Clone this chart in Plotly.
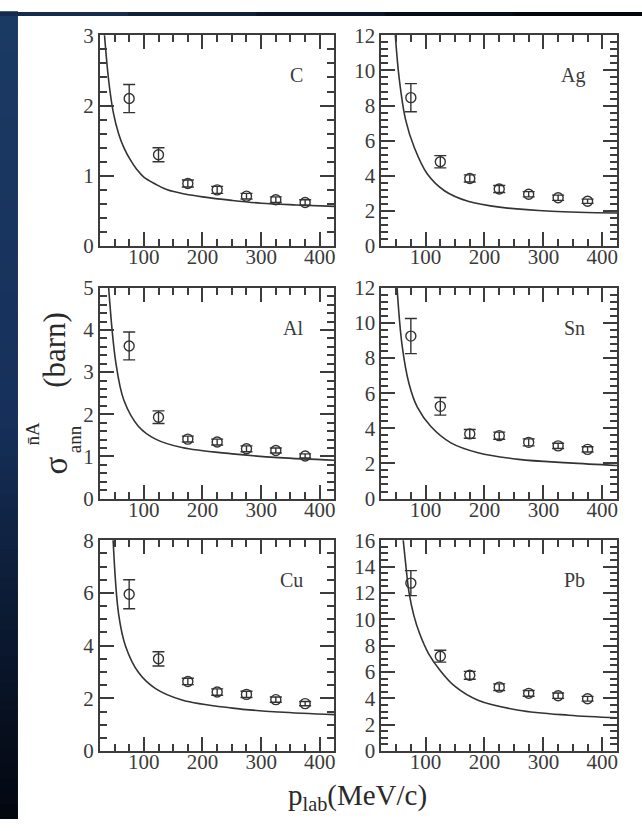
import plotly.graph_objects as go

W, H = 642, 831

# Beam momenta of the measured points (MeV/c)
p_lab = [75, 125, 175, 225, 275, 325, 375]

# Measured annihilation cross sections (barn) and their errors
sigma_C = [2.10, 1.30, 0.89, 0.80, 0.71, 0.66, 0.62]
err_C = [0.20, 0.10, 0.05, 0.05, 0.04, 0.04, 0.04]
sigma_Ag = [8.45, 4.80, 3.85, 3.25, 2.95, 2.75, 2.55]
err_Ag = [0.80, 0.35, 0.20, 0.20, 0.15, 0.15, 0.12]
sigma_Al = [3.62, 1.93, 1.41, 1.34, 1.18, 1.14, 1.01]
err_Al = [0.33, 0.15, 0.07, 0.07, 0.07, 0.06, 0.05]
sigma_Sn = [9.25, 5.25, 3.68, 3.58, 3.20, 3.00, 2.80]
err_Sn = [1.00, 0.50, 0.25, 0.20, 0.20, 0.15, 0.15]
sigma_Cu = [5.95, 3.50, 2.64, 2.24, 2.15, 1.95, 1.80]
err_Cu = [0.55, 0.27, 0.12, 0.12, 0.12, 0.10, 0.08]
sigma_Pb = [12.75, 7.20, 5.75, 4.85, 4.38, 4.20, 3.97]
err_Pb = [0.95, 0.45, 0.30, 0.25, 0.22, 0.20, 0.18]

# Calculated curves (momentum, cross section)
curve_p_C = [32, 40, 48, 57, 66, 76, 88, 100, 120, 140, 170, 200, 250, 300, 360, 425]
curve_s_C = [3.10, 2.36, 1.90, 1.60, 1.40, 1.24, 1.09, 0.98, 0.88, 0.80, 0.74, 0.70, 0.65, 0.61, 0.585, 0.565]
curve_p_Ag = [48, 55, 66, 81, 103, 132, 172, 229, 314, 425]
curve_s_Ag = [12.3, 9.6, 7.2, 5.6, 4.1, 3.15, 2.55, 2.2, 1.98, 1.88]
curve_p_Al = [39, 52, 66, 91, 120, 165, 251, 330, 425]
curve_s_Al = [5.2, 3.25, 2.33, 1.71, 1.41, 1.21, 1.06, 0.97, 0.91]
curve_p_Sn = [51, 60, 72, 86, 109, 143, 189, 258, 343, 425]
curve_s_Sn = [12.3, 8.75, 6.52, 5.2, 4.1, 3.17, 2.61, 2.23, 2.03, 1.88]
curve_p_Cu = [47, 57, 69, 91, 120, 165, 251, 330, 425]
curve_s_Cu = [8.3, 5.2, 3.97, 2.98, 2.37, 1.94, 1.63, 1.48, 1.38]
curve_p_Pb = [61, 66, 72, 80, 90, 105, 125, 150, 189, 258, 343, 425]
curve_s_Pb = [16.5, 14.3, 12.0, 10.3, 8.9, 7.4, 6.1, 4.9, 3.85, 3.1, 2.72, 2.52]

# Axis settings per target: (y max, major step, minor step)
targets = ["C", "Ag", "Al", "Sn", "Cu", "Pb"]
y_max = [3, 12, 5, 12, 8, 16]
y_major = [1, 2, 1, 2, 2, 2]
y_minor = [0.2, 0.4, 0.2, 0.4, 0.5, 0.5]
x_ticks = [100, 200, 300, 400]

data_sets = {
    "C": (sigma_C, err_C, curve_p_C, curve_s_C),
    "Ag": (sigma_Ag, err_Ag, curve_p_Ag, curve_s_Ag),
    "Al": (sigma_Al, err_Al, curve_p_Al, curve_s_Al),
    "Sn": (sigma_Sn, err_Sn, curve_p_Sn, curve_s_Sn),
    "Cu": (sigma_Cu, err_Cu, curve_p_Cu, curve_s_Cu),
    "Pb": (sigma_Pb, err_Pb, curve_p_Pb, curve_s_Pb),
}


def px(x):
    return x / W


def py(y):
    return 1 - y / H


# Panel frames in pixels
col_x = [(100, 335), (382, 618)]
row_y = [(24, 241), (284, 501), (544, 761)]

INK = "#333333"
SERIF = "Liberation Serif"

fig = go.Figure()
layout_axes = {}
annotations = []

for i, name in enumerate(targets):
    r, c = divmod(i, 2)
    x0, x1 = col_x[c]
    y0, y1 = row_y[r]
    n = "" if i == 0 else str(i + 1)
    sig, err, cp, cs = data_sets[name]

    fig.add_trace(go.Scatter(
        x=cp, y=cs, mode="lines", line=dict(color=INK, width=1.6, shape="spline"),
        xaxis="x" + n, yaxis="y" + n, showlegend=False, hoverinfo="skip"))
    fig.add_trace(go.Scatter(
        x=p_lab, y=sig, mode="markers",
        marker=dict(symbol="circle-open", size=10, color=INK, line=dict(width=1.4, color=INK)),
        error_y=dict(type="data", array=err, visible=True, color=INK, thickness=1.4, width=6),
        xaxis="x" + n, yaxis="y" + n, showlegend=False))

    common = dict(
        showline=True, linecolor="#3c3c3c", linewidth=2, mirror="allticks",
        ticks="inside", tickcolor="#3c3c3c", tickwidth=1.5, ticklen=14,
        showgrid=False, zeroline=False,
        tickfont=dict(family=SERIF, size=21, color="#3a3a3a"),
    )
    layout_axes["xaxis" + n] = dict(
        common, domain=[px(x0), px(x1)], range=[25, 425], anchor="y" + n,
        tickvals=x_ticks, ticklabelstandoff=-9,
        minor=dict(dtick=25, tick0=0, ticks="inside", ticklen=7, tickcolor="#3c3c3c", tickwidth=1.5),
    )
    layout_axes["yaxis" + n] = dict(
        common, domain=[py(y1), py(y0)], range=[0, y_max[i]], anchor="x" + n,
        dtick=y_major[i], tick0=0,
        minor=dict(dtick=y_minor[i], tick0=0, ticks="inside", ticklen=7, tickcolor="#3c3c3c", tickwidth=1.5),
    )
    annotations.append(dict(
        text=name, x=px(x1 - 30), y=py(y0 + 41), xref="paper", yref="paper",
        xanchor="right", yanchor="middle", showarrow=False,
        font=dict(family=SERIF, size=20, color="#3a3a3a")))

# Axis titles
annotations.append(dict(
    text="p<sub>lab</sub>(MeV/c)", x=px(358), y=py(808), xref="paper", yref="paper",
    xanchor="center", yanchor="middle", showarrow=False,
    font=dict(family=SERIF, size=29, color="#2a2a2a")))
annotations.append(dict(
    text="(barn)", x=px(55), y=py(348), xref="paper", yref="paper", textangle=-90,
    xanchor="center", yanchor="middle", showarrow=False,
    font=dict(family=SERIF, size=31, color="#2a2a2a")))
annotations.append(dict(
    text="σ", x=px(56), y=py(467), xref="paper", yref="paper", textangle=-90,
    xanchor="center", yanchor="middle", showarrow=False,
    font=dict(family=SERIF, size=33, color="#2a2a2a")))
annotations.append(dict(
    text="n\u0304A", x=px(33), y=py(434), xref="paper", yref="paper", textangle=-90,
    xanchor="center", yanchor="middle", showarrow=False,
    font=dict(family=SERIF, size=19, color="#2a2a2a")))
annotations.append(dict(
    text="ann", x=px(74), y=py(440), xref="paper", yref="paper", textangle=-90,
    xanchor="center", yanchor="middle", showarrow=False,
    font=dict(family=SERIF, size=19, color="#2a2a2a")))

# Dark frame: left strip with vertical gradient, thin band on top
shapes = []
stops = [(0, (27, 58, 99)), (420, (22, 48, 90)), (600, (12, 28, 54)), (831, (3, 7, 15))]
bands = 60
for k in range(bands):
    ya = k * H / bands
    yb = (k + 1) * H / bands
    ym = (ya + yb) / 2
    for (s0, c0), (s1, c1) in zip(stops[:-1], stops[1:]):
        if s0 <= ym <= s1:
            t = (ym - s0) / (s1 - s0)
            col = tuple(round(a + (b - a) * t) for a, b in zip(c0, c1))
            break
    shapes.append(dict(type="rect", xref="paper", yref="paper", x0=0, x1=px(18),
                       y0=py(yb), y1=py(ya) + 0.001, line=dict(width=0),
                       fillcolor="rgb(%d,%d,%d)" % col, layer="below"))
top_cols = [(22, 44, 78), (16, 33, 60), (10, 22, 42), (6, 13, 26), (3, 6, 13)]
for k, col in enumerate(top_cols):
    shapes.append(dict(type="rect", xref="paper", yref="paper",
                       x0=k / len(top_cols), x1=(k + 1) / len(top_cols) + 0.002,
                       y0=py(4), y1=1, line=dict(width=0),
                       fillcolor="rgb(%d,%d,%d)" % col, layer="below"))

fig.update_layout(
    width=W, height=H, margin=dict(l=0, r=0, t=0, b=0),
    paper_bgcolor="white", plot_bgcolor="rgba(0,0,0,0)",
    annotations=annotations, shapes=shapes, showlegend=False,
    **layout_axes,
)

fig.write_html("out.html")
